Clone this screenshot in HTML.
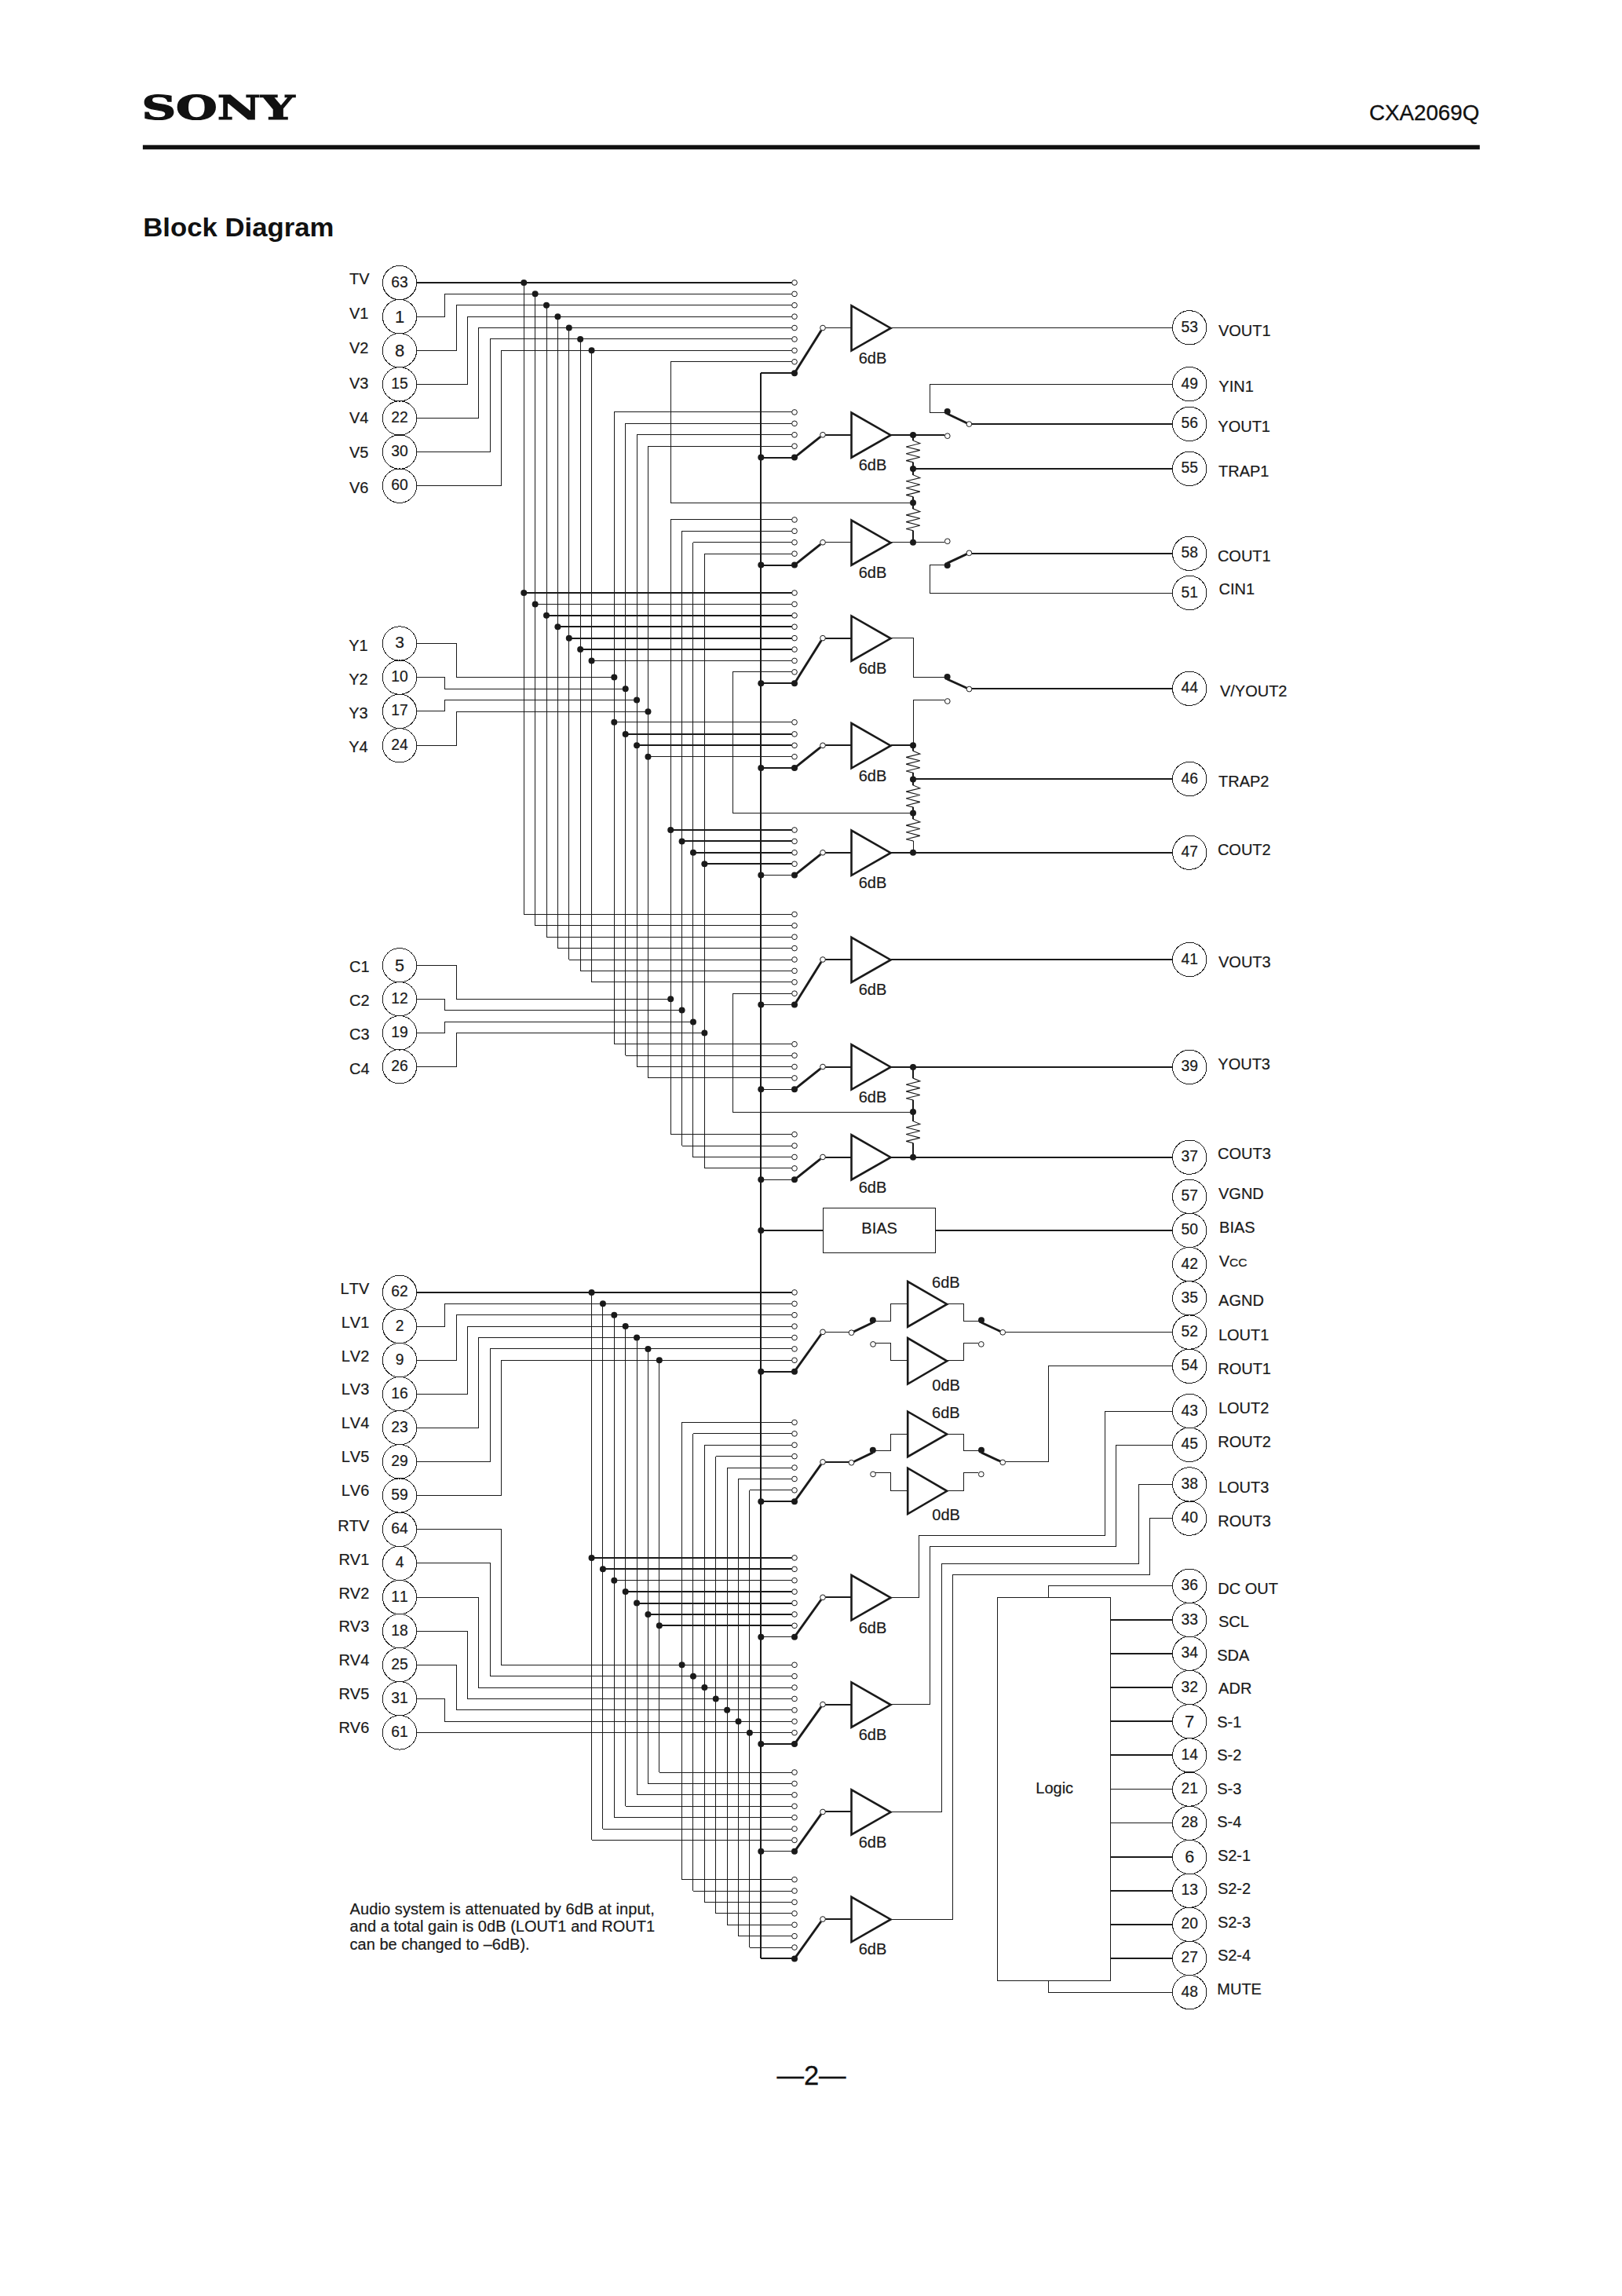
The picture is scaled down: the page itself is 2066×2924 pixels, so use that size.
<!DOCTYPE html>
<html lang="en"><head><meta charset="utf-8"><title>CXA2069Q Block Diagram</title>
<style>html,body{margin:0;padding:0;background:#fff}svg{display:block}text{font-kerning:none;white-space:pre}</style>
</head><body>
<svg width="2066" height="2924" viewBox="0 0 2066 2924">
<rect width="100%" height="100%" fill="#fff"/>
<g fill="#111" font-family="'Liberation Sans', sans-serif">
<text id="sony" x="0" y="0" font-family="'DejaVu Serif', 'Liberation Serif', serif" font-weight="bold" font-size="42.5" transform="translate(180.4 151.5) scale(1.425 1)" stroke="#111" stroke-width="1.2">SONY</text>
<text id="partno" x="1884.3" y="152.7" font-size="27" text-anchor="end" stroke="#111" stroke-width="0.3" textLength="140.4" lengthAdjust="spacingAndGlyphs">CXA2069Q</text>
<rect x="181.9" y="184.7" width="1702.9" height="5.6"/>
<text id="title" x="182.3" y="300.9" font-size="34" font-weight="bold" textLength="243.1" lengthAdjust="spacingAndGlyphs">Block Diagram</text>
<text id="pageno" x="1033.5" y="2654.9" font-size="34.5" text-anchor="middle" stroke="#111" stroke-width="0.3">—2—</text>
</g>
<g fill="none" stroke="#1a1a1a" stroke-linecap="butt" stroke-linejoin="miter" shape-rendering="crispEdges">
<path d="M969.3 475L1012 475" stroke-width="2.0"/>
<path d="M969.3 583L1012 583" stroke-width="2.0"/>
<path d="M969.3 720L1012 720" stroke-width="2.0"/>
<path d="M969.3 870L1012 870" stroke-width="2.0"/>
<path d="M969.3 978L1012 978" stroke-width="2.0"/>
<path d="M969.3 1114.5L1012 1114.5" stroke-width="1.0"/>
<path d="M969.3 1279.5L1012 1279.5" stroke-width="1.0"/>
<path d="M969.3 1387.5L1012 1387.5" stroke-width="1.0"/>
<path d="M969.3 1502.5L1012 1502.5" stroke-width="1.0"/>
<path d="M969.3 1747L1012 1747" stroke-width="2.0"/>
<path d="M969.3 1912L1012 1912" stroke-width="2.0"/>
<path d="M969.3 2084.5L1012 2084.5" stroke-width="1.0"/>
<path d="M969.3 2221L1012 2221" stroke-width="2.0"/>
<path d="M969.3 2357.5L1012 2357.5" stroke-width="1.0"/>
<path d="M969.3 2494L1012 2494" stroke-width="2.0"/>
<path d="M969 475.15L969 2494.45" stroke-width="2.0"/>
<path d="M667.5 359.95L667.5 1164.4" stroke-width="1.0"/>
<path d="M667.27 755L1008.65 755" stroke-width="2.0"/>
<path d="M667.27 1164.5L1008.65 1164.5" stroke-width="1.0"/>
<path d="M530.7 403.5L566.5 403.5L566.5 374.5L1008.65 374.5" stroke-width="1.0"/>
<path d="M681.5 374.35L681.5 1178.8" stroke-width="1.0"/>
<path d="M681.65 769.5L1008.65 769.5" stroke-width="1.0"/>
<path d="M681.65 1178.5L1008.65 1178.5" stroke-width="1.0"/>
<path d="M530.7 446.5L581.5 446.5L581.5 388.5L1008.65 388.5" stroke-width="1.0"/>
<path d="M696.5 388.75L696.5 1193.2" stroke-width="1.0"/>
<path d="M696.03 784L1008.65 784" stroke-width="2.0"/>
<path d="M696.03 1193.5L1008.65 1193.5" stroke-width="1.0"/>
<path d="M530.7 489.5L595.5 489.5L595.5 403.5L1008.65 403.5" stroke-width="1.0"/>
<path d="M710.5 403.15L710.5 1207.6" stroke-width="1.0"/>
<path d="M710.41 798L1008.65 798" stroke-width="2.0"/>
<path d="M710.41 1207.5L1008.65 1207.5" stroke-width="1.0"/>
<path d="M530.7 532.5L609.5 532.5L609.5 417.5L1008.65 417.5" stroke-width="1.0"/>
<path d="M724.5 417.55L724.5 1222" stroke-width="1.0"/>
<path d="M724.79 813L1008.65 813" stroke-width="2.0"/>
<path d="M724.79 1222.5L1008.65 1222.5" stroke-width="1.0"/>
<path d="M530.7 575.5L624.5 575.5L624.5 431.5L1008.65 431.5" stroke-width="1.0"/>
<path d="M739.5 431.95L739.5 1236.4" stroke-width="1.0"/>
<path d="M739.17 827L1008.65 827" stroke-width="2.0"/>
<path d="M739.17 1236.5L1008.65 1236.5" stroke-width="1.0"/>
<path d="M530.7 618.5L638.5 618.5L638.5 446.5L1008.65 446.5" stroke-width="1.0"/>
<path d="M753.5 446.35L753.5 1250.8" stroke-width="1.0"/>
<path d="M753.55 841.5L1008.65 841.5" stroke-width="1.0"/>
<path d="M753.55 1250.5L1008.65 1250.5" stroke-width="1.0"/>
<path d="M530.7 819.5L581.5 819.5L581.5 862.5L782.31 862.5" stroke-width="1.0"/>
<path d="M782.5 524.95L782.5 1329.75" stroke-width="1.0"/>
<path d="M782.31 524.5L1008.65 524.5" stroke-width="1.0"/>
<path d="M782.31 919.5L1008.65 919.5" stroke-width="1.0"/>
<path d="M782.31 1329.5L1008.65 1329.5" stroke-width="1.0"/>
<path d="M530.7 862.5L566.5 862.5L566.5 877.5L796.69 877.5" stroke-width="1.0"/>
<path d="M796.5 539.35L796.5 1344.15" stroke-width="1.0"/>
<path d="M796.69 539.5L1008.65 539.5" stroke-width="1.0"/>
<path d="M796.69 935L1008.65 935" stroke-width="2.0"/>
<path d="M796.69 1344.5L1008.65 1344.5" stroke-width="1.0"/>
<path d="M530.7 905.5L566.5 905.5L566.5 891.5L811.07 891.5" stroke-width="1.0"/>
<path d="M811.5 553.75L811.5 1358.55" stroke-width="1.0"/>
<path d="M811.07 553.5L1008.65 553.5" stroke-width="1.0"/>
<path d="M811.07 949L1008.65 949" stroke-width="2.0"/>
<path d="M811.07 1358.5L1008.65 1358.5" stroke-width="1.0"/>
<path d="M530.7 949.5L581.5 949.5L581.5 906.5L825.45 906.5" stroke-width="1.0"/>
<path d="M825.5 568.15L825.5 1372.95" stroke-width="1.0"/>
<path d="M825.45 568.5L1008.65 568.5" stroke-width="1.0"/>
<path d="M825.45 963.5L1008.65 963.5" stroke-width="1.0"/>
<path d="M825.45 1372.5L1008.65 1372.5" stroke-width="1.0"/>
<path d="M530.7 1229.5L581.5 1229.5L581.5 1272.5L854.21 1272.5" stroke-width="1.0"/>
<path d="M854.5 661.95L854.5 1444.7" stroke-width="1.0"/>
<path d="M854.21 661.5L1008.65 661.5" stroke-width="1.0"/>
<path d="M854.21 1057L1008.65 1057" stroke-width="2.0"/>
<path d="M854.21 1444.5L1008.65 1444.5" stroke-width="1.0"/>
<path d="M530.7 1272.5L566.5 1272.5L566.5 1286.5L868.59 1286.5" stroke-width="1.0"/>
<path d="M868.5 676.35L868.5 1459.1" stroke-width="1.0"/>
<path d="M868.59 676.5L1008.65 676.5" stroke-width="1.0"/>
<path d="M868.59 1071L1008.65 1071" stroke-width="2.0"/>
<path d="M868.59 1459.5L1008.65 1459.5" stroke-width="1.0"/>
<path d="M530.7 1315.5L566.5 1315.5L566.5 1301.5L882.97 1301.5" stroke-width="1.0"/>
<path d="M882.5 690.75L882.5 1473.5" stroke-width="1.0"/>
<path d="M882.97 690.5L1008.65 690.5" stroke-width="1.0"/>
<path d="M882.97 1086L1008.65 1086" stroke-width="2.0"/>
<path d="M882.97 1473.5L1008.65 1473.5" stroke-width="1.0"/>
<path d="M530.7 1358.5L581.5 1358.5L581.5 1315.5L897.35 1315.5" stroke-width="1.0"/>
<path d="M897.5 705.15L897.5 1487.9" stroke-width="1.0"/>
<path d="M897.35 705.5L1008.65 705.5" stroke-width="1.0"/>
<path d="M897.35 1100L1008.65 1100" stroke-width="2.0"/>
<path d="M897.35 1487.5L1008.65 1487.5" stroke-width="1.0"/>
<path d="M1008.65 460.5L854.5 460.5L854.5 640.5L1163 640.5" stroke-width="1.0"/>
<path d="M1008.65 855.5L933.5 855.5L933.5 1035.5L1163 1035.5" stroke-width="1.0"/>
<path d="M1008.65 1265.5L933.5 1265.5L933.5 1416.5L1163 1416.5" stroke-width="1.0"/>
<path d="M1051.35 417.5L1084.5 417.5" stroke-width="1.0"/>
<path d="M1051.35 554L1084.5 554" stroke-width="2.0"/>
<path d="M1051.35 690.5L1084.5 690.5" stroke-width="1.0"/>
<path d="M1051.35 813L1084.5 813" stroke-width="2.0"/>
<path d="M1051.35 949L1084.5 949" stroke-width="2.0"/>
<path d="M1051.35 1086L1084.5 1086" stroke-width="2.0"/>
<path d="M1051.35 1222L1084.5 1222" stroke-width="2.0"/>
<path d="M1051.35 1359L1084.5 1359" stroke-width="2.0"/>
<path d="M1051.35 1474L1084.5 1474" stroke-width="2.0"/>
<path d="M1134.5 417.5L1493.5 417.5" stroke-width="1.0"/>
<path d="M1134.5 554L1203.2 554" stroke-width="2.0"/>
<path d="M1163 553.9L1163 560.9" stroke-width="2.0"/>
<path d="M1163 588.8L1163 597.1" stroke-width="2.0"/>
<path d="M1163 597.1L1163 604.7" stroke-width="2.0"/>
<path d="M1163 632.6L1163 640.2" stroke-width="2.0"/>
<path d="M1163 640.2L1163 647.8" stroke-width="2.0"/>
<path d="M1163 675.7L1163 690.7" stroke-width="2.0"/>
<path d="M1163 597L1493.5 597" stroke-width="2.0"/>
<path d="M1493.5 489.5L1184.5 489.5L1184.5 525.5L1206.7 525.5" stroke-width="1.0"/>
<path d="M1237.75 540L1493.5 540" stroke-width="2.0"/>
<path d="M1134.5 690.5L1203.4 690.5" stroke-width="1.0"/>
<path d="M1237.75 705L1493.5 705" stroke-width="2.0"/>
<path d="M1206.7 719.5L1184.5 719.5L1184.5 755.5L1493.5 755.5" stroke-width="1.0"/>
<path d="M1134.5 812.5L1163.5 812.5L1163.5 862.5L1206.6 862.5" stroke-width="1.0"/>
<path d="M1237.85 877L1493.5 877" stroke-width="2.0"/>
<path d="M1203.4 891.5L1163.5 891.5L1163.5 949.3" stroke-width="1.0"/>
<path d="M1134.5 949L1163 949" stroke-width="2.0"/>
<path d="M1163 949.3L1163 956.3" stroke-width="2.0"/>
<path d="M1163 984.2L1163 992.4" stroke-width="2.0"/>
<path d="M1163 992.4L1163 1000" stroke-width="2.0"/>
<path d="M1163 1027.9L1163 1035.4" stroke-width="2.0"/>
<path d="M1163 1035.4L1163 1043" stroke-width="2.0"/>
<path d="M1163.5 1070.9L1163.5 1085.8" stroke-width="1.0"/>
<path d="M1163 992L1493.5 992" stroke-width="2.0"/>
<path d="M1134.5 1086L1493.5 1086" stroke-width="2.0"/>
<path d="M1134.5 1222L1493.5 1222" stroke-width="2.0"/>
<path d="M1134.5 1359L1493.5 1359" stroke-width="2.0"/>
<path d="M1163 1358.9L1163 1373.1" stroke-width="2.0"/>
<path d="M1163 1401L1163 1416.1" stroke-width="2.0"/>
<path d="M1163 1416.1L1163 1427.7" stroke-width="2.0"/>
<path d="M1163 1455.6L1163 1473.7" stroke-width="2.0"/>
<path d="M1134.5 1474L1493.5 1474" stroke-width="2.0"/>
<path d="M969.3 1567L1048.2 1567" stroke-width="2.0"/>
<rect x="1048.2" y="1538.2" width="143.4" height="57.2" stroke-width="1"/>
<path d="M1191.6 1567L1493.5 1567" stroke-width="2.0"/>
<path d="M530.7 1646L1008.65 1646" stroke-width="2.0"/>
<path d="M753.5 1645.9L753.5 2343.45" stroke-width="1.0"/>
<path d="M753.55 1984L1008.65 1984" stroke-width="2.0"/>
<path d="M753.55 2343.5L1008.65 2343.5" stroke-width="1.0"/>
<path d="M530.7 1689.5L566.5 1689.5L566.5 1660.5L1008.65 1660.5" stroke-width="1.0"/>
<path d="M767.5 1660.3L767.5 2329.05" stroke-width="1.0"/>
<path d="M767.93 1998L1008.65 1998" stroke-width="2.0"/>
<path d="M767.93 2329.5L1008.65 2329.5" stroke-width="1.0"/>
<path d="M530.7 1732.5L581.5 1732.5L581.5 1674.5L1008.65 1674.5" stroke-width="1.0"/>
<path d="M782.5 1674.7L782.5 2314.65" stroke-width="1.0"/>
<path d="M782.31 2012.5L1008.65 2012.5" stroke-width="1.0"/>
<path d="M782.31 2314.5L1008.65 2314.5" stroke-width="1.0"/>
<path d="M530.7 1775.5L595.5 1775.5L595.5 1689.5L1008.65 1689.5" stroke-width="1.0"/>
<path d="M796.5 1689.1L796.5 2300.25" stroke-width="1.0"/>
<path d="M796.69 2027L1008.65 2027" stroke-width="2.0"/>
<path d="M796.69 2300.5L1008.65 2300.5" stroke-width="1.0"/>
<path d="M530.7 1818.5L609.5 1818.5L609.5 1703.5L1008.65 1703.5" stroke-width="1.0"/>
<path d="M811.5 1703.5L811.5 2285.85" stroke-width="1.0"/>
<path d="M811.07 2042L1008.65 2042" stroke-width="2.0"/>
<path d="M811.07 2285.5L1008.65 2285.5" stroke-width="1.0"/>
<path d="M530.7 1861.5L624.5 1861.5L624.5 1717.5L1008.65 1717.5" stroke-width="1.0"/>
<path d="M825.5 1717.9L825.5 2271.45" stroke-width="1.0"/>
<path d="M825.45 2056L1008.65 2056" stroke-width="2.0"/>
<path d="M825.45 2271.5L1008.65 2271.5" stroke-width="1.0"/>
<path d="M530.7 1904.5L638.5 1904.5L638.5 1732.5L1008.65 1732.5" stroke-width="1.0"/>
<path d="M839.5 1732.3L839.5 2257.05" stroke-width="1.0"/>
<path d="M839.83 2070L1008.65 2070" stroke-width="2.0"/>
<path d="M839.83 2257.5L1008.65 2257.5" stroke-width="1.0"/>
<path d="M530.7 1947.5L638.5 1947.5L638.5 2120.5L1008.65 2120.5" stroke-width="1.0"/>
<path d="M868.5 1811.45L868.5 2393.65" stroke-width="1.0"/>
<path d="M868.59 1811.5L1008.65 1811.5" stroke-width="1.0"/>
<path d="M868.59 2393.5L1008.65 2393.5" stroke-width="1.0"/>
<path d="M530.7 1990.5L624.5 1990.5L624.5 2134.5L1008.65 2134.5" stroke-width="1.0"/>
<path d="M882.5 1825.85L882.5 2408.05" stroke-width="1.0"/>
<path d="M882.97 1825.5L1008.65 1825.5" stroke-width="1.0"/>
<path d="M882.97 2408.5L1008.65 2408.5" stroke-width="1.0"/>
<path d="M530.7 2034.5L609.5 2034.5L609.5 2149.5L1008.65 2149.5" stroke-width="1.0"/>
<path d="M897.5 1840.25L897.5 2422.45" stroke-width="1.0"/>
<path d="M897.35 1840.5L1008.65 1840.5" stroke-width="1.0"/>
<path d="M897.35 2422.5L1008.65 2422.5" stroke-width="1.0"/>
<path d="M530.7 2077.5L595.5 2077.5L595.5 2163.5L1008.65 2163.5" stroke-width="1.0"/>
<path d="M911.5 1854.65L911.5 2436.85" stroke-width="1.0"/>
<path d="M911.73 1854.5L1008.65 1854.5" stroke-width="1.0"/>
<path d="M911.73 2436.5L1008.65 2436.5" stroke-width="1.0"/>
<path d="M530.7 2120.5L581.5 2120.5L581.5 2177.5L1008.65 2177.5" stroke-width="1.0"/>
<path d="M926.5 1869.05L926.5 2451.25" stroke-width="1.0"/>
<path d="M926.11 1869.5L1008.65 1869.5" stroke-width="1.0"/>
<path d="M926.11 2451.5L1008.65 2451.5" stroke-width="1.0"/>
<path d="M530.7 2163.5L566.5 2163.5L566.5 2192.5L1008.65 2192.5" stroke-width="1.0"/>
<path d="M940.5 1883.45L940.5 2465.65" stroke-width="1.0"/>
<path d="M940.49 1883.5L1008.65 1883.5" stroke-width="1.0"/>
<path d="M940.49 2465.5L1008.65 2465.5" stroke-width="1.0"/>
<path d="M530.7 2206.5L1008.65 2206.5" stroke-width="1.0"/>
<path d="M954.5 1897.85L954.5 2480.05" stroke-width="1.0"/>
<path d="M954.87 1897.5L1008.65 1897.5" stroke-width="1.0"/>
<path d="M954.87 2480.5L1008.65 2480.5" stroke-width="1.0"/>
<path d="M1051.35 1696.5L1081.15 1696.5" stroke-width="1.0"/>
<path d="M1111.8 1682.5L1134.5 1682.5L1134.5 1660.5L1156.2 1660.5" stroke-width="1.0"/>
<path d="M1206.2 1660.5L1227.5 1660.5L1227.5 1682.5L1250 1682.5" stroke-width="1.0"/>
<path d="M1115.35 1710.5L1134.5 1710.5L1134.5 1732.5L1156.2 1732.5" stroke-width="1.0"/>
<path d="M1206.2 1732.5L1227.5 1732.5L1227.5 1710.5L1246.45 1710.5" stroke-width="1.0"/>
<path d="M1280.55 1696.5L1493.5 1696.5" stroke-width="1.0"/>
<path d="M1051.35 1862L1081.15 1862" stroke-width="2.0"/>
<path d="M1111.8 1847.5L1134.5 1847.5L1134.5 1826.5L1156.2 1826.5" stroke-width="1.0"/>
<path d="M1206.2 1826.5L1227.5 1826.5L1227.5 1847.5L1250 1847.5" stroke-width="1.0"/>
<path d="M1115.35 1875.5L1134.5 1875.5L1134.5 1898.5L1156.2 1898.5" stroke-width="1.0"/>
<path d="M1206.2 1898.5L1227.5 1898.5L1227.5 1875.5L1246.45 1875.5" stroke-width="1.0"/>
<path d="M1280.55 1861.5L1335.5 1861.5L1335.5 1739.5L1493.5 1739.5" stroke-width="1.0"/>
<path d="M1051.35 2034L1084.5 2034" stroke-width="2.0"/>
<path d="M1134.5 2034.5L1170.5 2034.5L1170.5 1955.5L1407.5 1955.5L1407.5 1797.5L1493.5 1797.5" stroke-width="1.0"/>
<path d="M1051.35 2171L1084.5 2171" stroke-width="2.0"/>
<path d="M1134.5 2170.5L1184.5 2170.5L1184.5 1969.5L1421.5 1969.5L1421.5 1840.5L1493.5 1840.5" stroke-width="1.0"/>
<path d="M1051.35 2307L1084.5 2307" stroke-width="2.0"/>
<path d="M1134.5 2307.5L1199.5 2307.5L1199.5 1991.5L1450.5 1991.5L1450.5 1890.5L1493.5 1890.5" stroke-width="1.0"/>
<path d="M1051.35 2444L1084.5 2444" stroke-width="2.0"/>
<path d="M1134.5 2444.5L1213.5 2444.5L1213.5 2005.5L1464.5 2005.5L1464.5 1933.5L1493.5 1933.5" stroke-width="1.0"/>
<rect x="1270.5" y="2034.3" width="144.1" height="488.1" stroke-width="1"/>
<path d="M1493.5 2019.5L1335.5 2019.5L1335.5 2034.3" stroke-width="1.0"/>
<path d="M1335.5 2522.4L1335.5 2537.5L1493.5 2537.5" stroke-width="1.0"/>
<path d="M1414.6 2063L1493.5 2063" stroke-width="2.0"/>
<path d="M1414.6 2106L1493.5 2106" stroke-width="2.0"/>
<path d="M1414.6 2149L1493.5 2149" stroke-width="2.0"/>
<path d="M1414.6 2192L1493.5 2192" stroke-width="2.0"/>
<path d="M1414.6 2235L1493.5 2235" stroke-width="2.0"/>
<path d="M1414.6 2278.5L1493.5 2278.5" stroke-width="1.0"/>
<path d="M1414.6 2321.5L1493.5 2321.5" stroke-width="1.0"/>
<path d="M1414.6 2365L1493.5 2365" stroke-width="2.0"/>
<path d="M1414.6 2408L1493.5 2408" stroke-width="2.0"/>
<path d="M1414.6 2451L1493.5 2451" stroke-width="2.0"/>
<path d="M1414.6 2494L1493.5 2494" stroke-width="2.0"/>
<g stroke-width="1.0"><circle cx="509" cy="360.05" r="21.7"/><circle cx="509" cy="403.15" r="21.7"/><circle cx="509" cy="446.25" r="21.7"/><circle cx="509" cy="489.35" r="21.7"/><circle cx="509" cy="532.45" r="21.7"/><circle cx="509" cy="575.55" r="21.7"/><circle cx="509" cy="618.65" r="21.7"/><circle cx="509" cy="819.5" r="21.7"/><circle cx="509" cy="862.6" r="21.7"/><circle cx="509" cy="905.9" r="21.7"/><circle cx="509" cy="949.3" r="21.7"/><circle cx="509" cy="1229.3" r="21.7"/><circle cx="509" cy="1272.3" r="21.7"/><circle cx="509" cy="1315.4" r="21.7"/><circle cx="509" cy="1358.2" r="21.7"/><circle cx="509" cy="1645.9" r="21.7"/><circle cx="509" cy="1689" r="21.7"/><circle cx="509" cy="1732.1" r="21.7"/><circle cx="509" cy="1775.2" r="21.7"/><circle cx="509" cy="1818.3" r="21.7"/><circle cx="509" cy="1861.4" r="21.7"/><circle cx="509" cy="1904.5" r="21.7"/><circle cx="509" cy="1947.8" r="21.7"/><circle cx="509" cy="1990.9" r="21.7"/><circle cx="509" cy="2034" r="21.7"/><circle cx="509" cy="2077.1" r="21.7"/><circle cx="509" cy="2120.2" r="21.7"/><circle cx="509" cy="2163.3" r="21.7"/><circle cx="509" cy="2206.4" r="21.7"/><circle cx="1515.2" cy="417.3" r="21.7"/><circle cx="1515.2" cy="489.1" r="21.7"/><circle cx="1515.2" cy="539.9" r="21.7"/><circle cx="1515.2" cy="596.9" r="21.7"/><circle cx="1515.2" cy="704.8" r="21.7"/><circle cx="1515.2" cy="755" r="21.7"/><circle cx="1515.2" cy="876.8" r="21.7"/><circle cx="1515.2" cy="992" r="21.7"/><circle cx="1515.2" cy="1085.7" r="21.7"/><circle cx="1515.2" cy="1222" r="21.7"/><circle cx="1515.2" cy="1358.9" r="21.7"/><circle cx="1515.2" cy="1473.7" r="21.7"/><circle cx="1515.2" cy="1523.8" r="21.7"/><circle cx="1515.2" cy="1566.9" r="21.7"/><circle cx="1515.2" cy="1610.1" r="21.7"/><circle cx="1515.2" cy="1653.3" r="21.7"/><circle cx="1515.2" cy="1696.6" r="21.7"/><circle cx="1515.2" cy="1739.8" r="21.7"/><circle cx="1515.2" cy="1797" r="21.7"/><circle cx="1515.2" cy="1839.9" r="21.7"/><circle cx="1515.2" cy="1890.4" r="21.7"/><circle cx="1515.2" cy="1933.7" r="21.7"/><circle cx="1515.2" cy="2019.8" r="21.7"/><circle cx="1515.2" cy="2063" r="21.7"/><circle cx="1515.2" cy="2105.8" r="21.7"/><circle cx="1515.2" cy="2149" r="21.7"/><circle cx="1515.2" cy="2192.2" r="21.7"/><circle cx="1515.2" cy="2235.4" r="21.7"/><circle cx="1515.2" cy="2278.6" r="21.7"/><circle cx="1515.2" cy="2321.8" r="21.7"/><circle cx="1515.2" cy="2365" r="21.7"/><circle cx="1515.2" cy="2407.7" r="21.7"/><circle cx="1515.2" cy="2450.8" r="21.7"/><circle cx="1515.2" cy="2493.9" r="21.7"/><circle cx="1515.2" cy="2537.1" r="21.7"/></g>
</g>
<g fill="none" stroke="#1a1a1a" stroke-linecap="butt" stroke-linejoin="miter">
<path d="M1012 475.15L1046.07 420.65" stroke-width="2.9"/>
<path d="M1012 582.55L1045.15 556.03" stroke-width="2.9"/>
<path d="M1012 719.55L1045.15 693.03" stroke-width="2.9"/>
<path d="M1012 870.25L1046.07 815.75" stroke-width="2.9"/>
<path d="M1012 978.1L1045.15 951.58" stroke-width="2.9"/>
<path d="M1012 1114.6L1045.15 1088.08" stroke-width="2.9"/>
<path d="M1012 1279.6L1046.07 1225.1" stroke-width="2.9"/>
<path d="M1012 1387.35L1045.15 1360.83" stroke-width="2.9"/>
<path d="M1012 1502.3L1045.15 1475.78" stroke-width="2.9"/>
<path d="M1012 1746.7L1045.88 1699.27" stroke-width="2.9"/>
<path d="M1012 1912.25L1045.88 1864.82" stroke-width="2.9"/>
<path d="M1012 2084.7L1045.88 2037.27" stroke-width="2.9"/>
<path d="M1012 2221.05L1045.88 2173.62" stroke-width="2.9"/>
<path d="M1012 2357.85L1045.88 2310.42" stroke-width="2.9"/>
<path d="M1012 2494.45L1045.88 2447.02" stroke-width="2.9"/>
<path d="M530.7 360.05L1008.65 359.95" stroke-width="2.0"/>
<path d="M1084.5 389.35L1084.5 446.55L1134.5 417.95Z" stroke-width="2.6" stroke-linejoin="miter"/>
<path d="M1084.5 525.55L1084.5 582.75L1134.5 554.15Z" stroke-width="2.6" stroke-linejoin="miter"/>
<path d="M1084.5 662.55L1084.5 719.75L1134.5 691.15Z" stroke-width="2.6" stroke-linejoin="miter"/>
<path d="M1084.5 784.45L1084.5 841.65L1134.5 813.05Z" stroke-width="2.6" stroke-linejoin="miter"/>
<path d="M1084.5 921.1L1084.5 978.3L1134.5 949.7Z" stroke-width="2.6" stroke-linejoin="miter"/>
<path d="M1084.5 1057.6L1084.5 1114.8L1134.5 1086.2Z" stroke-width="2.6" stroke-linejoin="miter"/>
<path d="M1084.5 1193.8L1084.5 1251L1134.5 1222.4Z" stroke-width="2.6" stroke-linejoin="miter"/>
<path d="M1084.5 1330.35L1084.5 1387.55L1134.5 1358.95Z" stroke-width="2.6" stroke-linejoin="miter"/>
<path d="M1084.5 1445.3L1084.5 1502.5L1134.5 1473.9Z" stroke-width="2.6" stroke-linejoin="miter"/>
<path d="M1163 560.3L1163 560.9L1171.85 564.7L1154.15 569L1171.85 573.4L1154.15 577.7L1171.85 582.3L1154.15 586.6L1163 588.8L1163 589.4" stroke-width="1.1" stroke-linejoin="miter"/>
<path d="M1163 604.1L1163 604.7L1171.85 608.5L1154.15 612.8L1171.85 617.2L1154.15 621.5L1171.85 626.1L1154.15 630.4L1163 632.6L1163 633.2" stroke-width="1.1" stroke-linejoin="miter"/>
<path d="M1163 647.2L1163 647.8L1171.85 651.6L1154.15 655.9L1171.85 660.3L1154.15 664.6L1171.85 669.2L1154.15 673.5L1163 675.7L1163 676.3" stroke-width="1.1" stroke-linejoin="miter"/>
<path d="M1206.7 527L1231.4 538.8" stroke-width="2.9"/>
<path d="M1206.7 717.1L1231.4 705.6" stroke-width="2.9"/>
<path d="M1206.6 865L1231.5 876.3" stroke-width="2.9"/>
<path d="M1163 955.7L1163 956.3L1171.85 960.1L1154.15 964.4L1171.85 968.8L1154.15 973.1L1171.85 977.7L1154.15 982L1163 984.2L1163 984.8" stroke-width="1.1" stroke-linejoin="miter"/>
<path d="M1163 999.4L1163 1000L1171.85 1003.8L1154.15 1008.1L1171.85 1012.5L1154.15 1016.8L1171.85 1021.4L1154.15 1025.7L1163 1027.9L1163 1028.5" stroke-width="1.1" stroke-linejoin="miter"/>
<path d="M1163 1042.4L1163 1043L1171.85 1046.8L1154.15 1051.1L1171.85 1055.5L1154.15 1059.8L1171.85 1064.4L1154.15 1068.7L1163 1070.9L1163 1071.5" stroke-width="1.1" stroke-linejoin="miter"/>
<path d="M1163 1372.5L1163 1373.1L1171.85 1376.9L1154.15 1381.2L1171.85 1385.6L1154.15 1389.9L1171.85 1394.5L1154.15 1398.8L1163 1401L1163 1401.6" stroke-width="1.1" stroke-linejoin="miter"/>
<path d="M1163 1427.1L1163 1427.7L1171.85 1431.5L1154.15 1435.8L1171.85 1440.2L1154.15 1444.5L1171.85 1449.1L1154.15 1453.4L1163 1455.6L1163 1456.2" stroke-width="1.1" stroke-linejoin="miter"/>
<path d="M1087.5 1695.9L1111.8 1684.3" stroke-width="2.9"/>
<path d="M1156.2 1632.1L1156.2 1689.7L1206.2 1660.9Z" stroke-width="2.6" stroke-linejoin="miter"/>
<path d="M1250 1684.3L1274.2 1695.5" stroke-width="2.9"/>
<path d="M1156.2 1704.1L1156.2 1762.5L1206.2 1733.3Z" stroke-width="2.6" stroke-linejoin="miter"/>
<path d="M1087.5 1861.45L1111.8 1849.85" stroke-width="2.9"/>
<path d="M1156.2 1797.65L1156.2 1855.25L1206.2 1826.45Z" stroke-width="2.6" stroke-linejoin="miter"/>
<path d="M1250 1849.85L1274.2 1861.05" stroke-width="2.9"/>
<path d="M1156.2 1869.65L1156.2 1928.05L1206.2 1898.85Z" stroke-width="2.6" stroke-linejoin="miter"/>
<path d="M1084.5 2006.1L1084.5 2063.3L1134.5 2034.7Z" stroke-width="2.6" stroke-linejoin="miter"/>
<path d="M1084.5 2142.45L1084.5 2199.65L1134.5 2171.05Z" stroke-width="2.6" stroke-linejoin="miter"/>
<path d="M1084.5 2279.25L1084.5 2336.45L1134.5 2307.85Z" stroke-width="2.6" stroke-linejoin="miter"/>
<path d="M1084.5 2415.85L1084.5 2473.05L1134.5 2444.45Z" stroke-width="2.6" stroke-linejoin="miter"/>
</g>
<g fill="#1a1a1a" stroke="none"><circle cx="1012" cy="475.15" r="4.0"/><circle cx="1012" cy="582.55" r="4.0"/><circle cx="1012" cy="719.55" r="4.0"/><circle cx="1012" cy="870.25" r="4.0"/><circle cx="1012" cy="978.1" r="4.0"/><circle cx="1012" cy="1114.6" r="4.0"/><circle cx="1012" cy="1279.6" r="4.0"/><circle cx="1012" cy="1387.35" r="4.0"/><circle cx="1012" cy="1502.3" r="4.0"/><circle cx="1012" cy="1746.7" r="4.0"/><circle cx="1012" cy="1912.25" r="4.0"/><circle cx="1012" cy="2084.7" r="4.0"/><circle cx="1012" cy="2221.05" r="4.0"/><circle cx="1012" cy="2357.85" r="4.0"/><circle cx="1012" cy="2494.45" r="4.0"/><circle cx="969.3" cy="582.55" r="4.0"/><circle cx="969.3" cy="719.55" r="4.0"/><circle cx="969.3" cy="870.25" r="4.0"/><circle cx="969.3" cy="978.1" r="4.0"/><circle cx="969.3" cy="1114.6" r="4.0"/><circle cx="969.3" cy="1279.6" r="4.0"/><circle cx="969.3" cy="1387.35" r="4.0"/><circle cx="969.3" cy="1502.3" r="4.0"/><circle cx="969.3" cy="1746.7" r="4.0"/><circle cx="969.3" cy="1912.25" r="4.0"/><circle cx="969.3" cy="2084.7" r="4.0"/><circle cx="969.3" cy="2221.05" r="4.0"/><circle cx="969.3" cy="2357.85" r="4.0"/><circle cx="667.27" cy="359.95" r="4.0"/><circle cx="667.27" cy="755.05" r="4.0"/><circle cx="681.65" cy="374.35" r="4.0"/><circle cx="681.65" cy="769.45" r="4.0"/><circle cx="696.03" cy="388.75" r="4.0"/><circle cx="696.03" cy="783.85" r="4.0"/><circle cx="710.41" cy="403.15" r="4.0"/><circle cx="710.41" cy="798.25" r="4.0"/><circle cx="724.79" cy="417.55" r="4.0"/><circle cx="724.79" cy="812.65" r="4.0"/><circle cx="739.17" cy="431.95" r="4.0"/><circle cx="739.17" cy="827.05" r="4.0"/><circle cx="753.55" cy="446.35" r="4.0"/><circle cx="753.55" cy="841.45" r="4.0"/><circle cx="782.31" cy="862.5" r="4.0"/><circle cx="782.31" cy="919.8" r="4.0"/><circle cx="796.69" cy="877.3" r="4.0"/><circle cx="796.69" cy="934.9" r="4.0"/><circle cx="811.07" cy="891.5" r="4.0"/><circle cx="811.07" cy="949.3" r="4.0"/><circle cx="825.45" cy="906.3" r="4.0"/><circle cx="825.45" cy="963.7" r="4.0"/><circle cx="854.21" cy="1272.2" r="4.0"/><circle cx="854.21" cy="1057" r="4.0"/><circle cx="868.59" cy="1286.5" r="4.0"/><circle cx="868.59" cy="1071.4" r="4.0"/><circle cx="882.97" cy="1301.4" r="4.0"/><circle cx="882.97" cy="1085.8" r="4.0"/><circle cx="897.35" cy="1315.4" r="4.0"/><circle cx="897.35" cy="1100.2" r="4.0"/><circle cx="1163" cy="553.9" r="4.0"/><circle cx="1163" cy="597.1" r="4.0"/><circle cx="1163" cy="640.2" r="4.0"/><circle cx="1163" cy="690.7" r="4.0"/><circle cx="1206.7" cy="524" r="4.0"/><circle cx="1206.7" cy="720.1" r="4.0"/><circle cx="1206.6" cy="862" r="4.0"/><circle cx="1163" cy="949.3" r="4.0"/><circle cx="1163" cy="992.4" r="4.0"/><circle cx="1163" cy="1035.4" r="4.0"/><circle cx="1163" cy="1085.8" r="4.0"/><circle cx="1163" cy="1358.9" r="4.0"/><circle cx="1163" cy="1416.1" r="4.0"/><circle cx="1163" cy="1473.7" r="4.0"/><circle cx="969.3" cy="1567.1" r="4.0"/><circle cx="753.55" cy="1645.9" r="4.0"/><circle cx="753.55" cy="1983.9" r="4.0"/><circle cx="767.93" cy="1660.3" r="4.0"/><circle cx="767.93" cy="1998.3" r="4.0"/><circle cx="782.31" cy="1674.7" r="4.0"/><circle cx="782.31" cy="2012.7" r="4.0"/><circle cx="796.69" cy="1689.1" r="4.0"/><circle cx="796.69" cy="2027.1" r="4.0"/><circle cx="811.07" cy="1703.5" r="4.0"/><circle cx="811.07" cy="2041.5" r="4.0"/><circle cx="825.45" cy="1717.9" r="4.0"/><circle cx="825.45" cy="2055.9" r="4.0"/><circle cx="839.83" cy="1732.3" r="4.0"/><circle cx="839.83" cy="2070.3" r="4.0"/><circle cx="868.59" cy="2120.25" r="4.0"/><circle cx="882.97" cy="2134.65" r="4.0"/><circle cx="897.35" cy="2149.05" r="4.0"/><circle cx="911.73" cy="2163.45" r="4.0"/><circle cx="926.11" cy="2177.85" r="4.0"/><circle cx="940.49" cy="2192.25" r="4.0"/><circle cx="954.87" cy="2206.65" r="4.0"/><circle cx="1111.8" cy="1681.3" r="4.0"/><circle cx="1250" cy="1681.3" r="4.0"/><circle cx="1111.8" cy="1846.85" r="4.0"/><circle cx="1250" cy="1846.85" r="4.0"/></g>
<g fill="#fff" stroke="#1a1a1a" stroke-width="1.0"><circle cx="1012" cy="359.95" r="3.35"/><circle cx="1012" cy="374.35" r="3.35"/><circle cx="1012" cy="388.75" r="3.35"/><circle cx="1012" cy="403.15" r="3.35"/><circle cx="1012" cy="417.55" r="3.35"/><circle cx="1012" cy="431.95" r="3.35"/><circle cx="1012" cy="446.35" r="3.35"/><circle cx="1012" cy="460.75" r="3.35"/><circle cx="1048" cy="417.55" r="3.35"/><circle cx="1012" cy="524.95" r="3.35"/><circle cx="1012" cy="539.35" r="3.35"/><circle cx="1012" cy="553.75" r="3.35"/><circle cx="1012" cy="568.15" r="3.35"/><circle cx="1048" cy="553.75" r="3.35"/><circle cx="1012" cy="661.95" r="3.35"/><circle cx="1012" cy="676.35" r="3.35"/><circle cx="1012" cy="690.75" r="3.35"/><circle cx="1012" cy="705.15" r="3.35"/><circle cx="1048" cy="690.75" r="3.35"/><circle cx="1012" cy="755.05" r="3.35"/><circle cx="1012" cy="769.45" r="3.35"/><circle cx="1012" cy="783.85" r="3.35"/><circle cx="1012" cy="798.25" r="3.35"/><circle cx="1012" cy="812.65" r="3.35"/><circle cx="1012" cy="827.05" r="3.35"/><circle cx="1012" cy="841.45" r="3.35"/><circle cx="1012" cy="855.85" r="3.35"/><circle cx="1048" cy="812.65" r="3.35"/><circle cx="1012" cy="919.8" r="3.35"/><circle cx="1012" cy="934.9" r="3.35"/><circle cx="1012" cy="949.3" r="3.35"/><circle cx="1012" cy="963.7" r="3.35"/><circle cx="1048" cy="949.3" r="3.35"/><circle cx="1012" cy="1057" r="3.35"/><circle cx="1012" cy="1071.4" r="3.35"/><circle cx="1012" cy="1085.8" r="3.35"/><circle cx="1012" cy="1100.2" r="3.35"/><circle cx="1048" cy="1085.8" r="3.35"/><circle cx="1012" cy="1164.4" r="3.35"/><circle cx="1012" cy="1178.8" r="3.35"/><circle cx="1012" cy="1193.2" r="3.35"/><circle cx="1012" cy="1207.6" r="3.35"/><circle cx="1012" cy="1222" r="3.35"/><circle cx="1012" cy="1236.4" r="3.35"/><circle cx="1012" cy="1250.8" r="3.35"/><circle cx="1012" cy="1265.2" r="3.35"/><circle cx="1048" cy="1222" r="3.35"/><circle cx="1012" cy="1329.75" r="3.35"/><circle cx="1012" cy="1344.15" r="3.35"/><circle cx="1012" cy="1358.55" r="3.35"/><circle cx="1012" cy="1372.95" r="3.35"/><circle cx="1048" cy="1358.55" r="3.35"/><circle cx="1012" cy="1444.7" r="3.35"/><circle cx="1012" cy="1459.1" r="3.35"/><circle cx="1012" cy="1473.5" r="3.35"/><circle cx="1012" cy="1487.9" r="3.35"/><circle cx="1048" cy="1473.5" r="3.35"/><circle cx="1012" cy="1645.9" r="3.35"/><circle cx="1012" cy="1660.3" r="3.35"/><circle cx="1012" cy="1674.7" r="3.35"/><circle cx="1012" cy="1689.1" r="3.35"/><circle cx="1012" cy="1703.5" r="3.35"/><circle cx="1012" cy="1717.9" r="3.35"/><circle cx="1012" cy="1732.3" r="3.35"/><circle cx="1048" cy="1696.3" r="3.35"/><circle cx="1012" cy="1811.45" r="3.35"/><circle cx="1012" cy="1825.85" r="3.35"/><circle cx="1012" cy="1840.25" r="3.35"/><circle cx="1012" cy="1854.65" r="3.35"/><circle cx="1012" cy="1869.05" r="3.35"/><circle cx="1012" cy="1883.45" r="3.35"/><circle cx="1012" cy="1897.85" r="3.35"/><circle cx="1048" cy="1861.85" r="3.35"/><circle cx="1012" cy="1983.9" r="3.35"/><circle cx="1012" cy="1998.3" r="3.35"/><circle cx="1012" cy="2012.7" r="3.35"/><circle cx="1012" cy="2027.1" r="3.35"/><circle cx="1012" cy="2041.5" r="3.35"/><circle cx="1012" cy="2055.9" r="3.35"/><circle cx="1012" cy="2070.3" r="3.35"/><circle cx="1048" cy="2034.3" r="3.35"/><circle cx="1012" cy="2120.25" r="3.35"/><circle cx="1012" cy="2134.65" r="3.35"/><circle cx="1012" cy="2149.05" r="3.35"/><circle cx="1012" cy="2163.45" r="3.35"/><circle cx="1012" cy="2177.85" r="3.35"/><circle cx="1012" cy="2192.25" r="3.35"/><circle cx="1012" cy="2206.65" r="3.35"/><circle cx="1048" cy="2170.65" r="3.35"/><circle cx="1012" cy="2257.05" r="3.35"/><circle cx="1012" cy="2271.45" r="3.35"/><circle cx="1012" cy="2285.85" r="3.35"/><circle cx="1012" cy="2300.25" r="3.35"/><circle cx="1012" cy="2314.65" r="3.35"/><circle cx="1012" cy="2329.05" r="3.35"/><circle cx="1012" cy="2343.45" r="3.35"/><circle cx="1048" cy="2307.45" r="3.35"/><circle cx="1012" cy="2393.65" r="3.35"/><circle cx="1012" cy="2408.05" r="3.35"/><circle cx="1012" cy="2422.45" r="3.35"/><circle cx="1012" cy="2436.85" r="3.35"/><circle cx="1012" cy="2451.25" r="3.35"/><circle cx="1012" cy="2465.65" r="3.35"/><circle cx="1012" cy="2480.05" r="3.35"/><circle cx="1048" cy="2444.05" r="3.35"/><circle cx="1206.8" cy="555.2" r="3.35"/><circle cx="1234.4" cy="540.1" r="3.35"/><circle cx="1206.8" cy="689.3" r="3.35"/><circle cx="1234.4" cy="704.3" r="3.35"/><circle cx="1234.5" cy="877.6" r="3.35"/><circle cx="1206.8" cy="893" r="3.35"/><circle cx="1084.5" cy="1697.2" r="3.35"/><circle cx="1277.2" cy="1696.8" r="3.35"/><circle cx="1112" cy="1711.9" r="3.35"/><circle cx="1249.8" cy="1711.9" r="3.35"/><circle cx="1084.5" cy="1862.75" r="3.35"/><circle cx="1277.2" cy="1862.35" r="3.35"/><circle cx="1112" cy="1877.45" r="3.35"/><circle cx="1249.8" cy="1877.45" r="3.35"/></g>
<g fill="#1a1a1a" stroke="#1a1a1a" stroke-width="0.2" font-family="'Liberation Sans', sans-serif" font-size="20">
<text x="445" y="361.7">TV</text>
<text x="445" y="406">V1</text>
<text x="445" y="450.3">V2</text>
<text x="445" y="494.6">V3</text>
<text x="445" y="538.9">V4</text>
<text x="445" y="583.2">V5</text>
<text x="445" y="627.5">V6</text>
<text x="444.2" y="829">Y1</text>
<text x="444.2" y="871.95">Y2</text>
<text x="444.2" y="914.9">Y3</text>
<text x="444.2" y="957.85">Y4</text>
<text x="445" y="1237.8">C1</text>
<text x="445" y="1281.1">C2</text>
<text x="445" y="1324.4">C3</text>
<text x="445" y="1367.7">C4</text>
<text x="1093.7" y="462.85">6dB</text>
<text x="1093.7" y="599.05">6dB</text>
<text x="1093.7" y="736.05">6dB</text>
<text x="1093.7" y="857.95">6dB</text>
<text x="1093.7" y="994.6">6dB</text>
<text x="1093.7" y="1131.1">6dB</text>
<text x="1093.7" y="1267.3">6dB</text>
<text x="1093.7" y="1403.85">6dB</text>
<text x="1093.7" y="1518.8">6dB</text>
<text x="1097.3" y="1571.4">BIAS</text>
<text x="470.3" y="1647.7" text-anchor="end">LTV</text>
<text x="470.3" y="1690.6" text-anchor="end">LV1</text>
<text x="470.3" y="1733.5" text-anchor="end">LV2</text>
<text x="470.3" y="1776.4" text-anchor="end">LV3</text>
<text x="470.3" y="1819.3" text-anchor="end">LV4</text>
<text x="470.3" y="1862.2" text-anchor="end">LV5</text>
<text x="470.3" y="1905.1" text-anchor="end">LV6</text>
<text x="470.3" y="1949.7" text-anchor="end">RTV</text>
<text x="470.3" y="1992.6" text-anchor="end">RV1</text>
<text x="470.3" y="2035.5" text-anchor="end">RV2</text>
<text x="470.3" y="2078.4" text-anchor="end">RV3</text>
<text x="470.3" y="2121.3" text-anchor="end">RV4</text>
<text x="470.3" y="2164.2" text-anchor="end">RV5</text>
<text x="470.3" y="2207.1" text-anchor="end">RV6</text>
<text x="1187.1" y="1640.3">6dB</text>
<text x="1187.3" y="1770.6">0dB</text>
<text x="1187.1" y="1805.85">6dB</text>
<text x="1187.3" y="1936.15">0dB</text>
<text x="1093.7" y="2079.6">6dB</text>
<text x="1093.7" y="2215.95">6dB</text>
<text x="1093.7" y="2352.75">6dB</text>
<text x="1093.7" y="2489.35">6dB</text>
<text x="1319.3" y="2283.6">Logic</text>
<text x="1551.9" y="427.8">VOUT1</text>
<text x="1552.3" y="499">YIN1</text>
<text x="1551.3" y="549.5">YOUT1</text>
<text x="1552" y="606.9">TRAP1</text>
<text x="1550.9" y="714.5">COUT1</text>
<text x="1552.6" y="757.3">CIN1</text>
<text x="1553.9" y="886.9">V/YOUT2</text>
<text x="1552" y="1001.8">TRAP2</text>
<text x="1550.9" y="1089.1">COUT2</text>
<text x="1552" y="1231.8">VOUT3</text>
<text x="1551.3" y="1361.9">YOUT3</text>
<text x="1551" y="1476.4">COUT3</text>
<text x="1552" y="1526.9">VGND</text>
<text x="1553.1" y="1569.9">BIAS</text>
<text x="1552.7" y="1612.6">V<tspan font-size="15.5">CC</tspan></text>
<text x="1552.1" y="1662.8">AGND</text>
<text x="1551.9" y="1707">LOUT1</text>
<text x="1551.2" y="1749.9">ROUT1</text>
<text x="1551.9" y="1800.1">LOUT2</text>
<text x="1551.2" y="1843">ROUT2</text>
<text x="1551.9" y="1900.8">LOUT3</text>
<text x="1551.2" y="1943.7">ROUT3</text>
<text x="1551.2" y="2030">DC OUT</text>
<text x="1551.9" y="2071.8">SCL</text>
<text x="1550.2" y="2114.6">SDA</text>
<text x="1552.1" y="2156.7">ADR</text>
<text x="1550.2" y="2199.6">S-1</text>
<text x="1550.2" y="2242.1">S-2</text>
<text x="1550.2" y="2284.9">S-3</text>
<text x="1550.2" y="2326.7">S-4</text>
<text x="1550.9" y="2369.7">S2-1</text>
<text x="1550.9" y="2411.8">S2-2</text>
<text x="1550.9" y="2454.7">S2-3</text>
<text x="1550.9" y="2497.1">S2-4</text>
<text x="1550.3" y="2540">MUTE</text>
<text x="445.6" y="2437.7" textLength="388.2" lengthAdjust="spacing">Audio system is attenuated by 6dB at input,</text>
<text x="445.6" y="2460.2" textLength="388.6" lengthAdjust="spacing">and a total gain is 0dB (LOUT1 and ROUT1</text>
<text x="445.6" y="2482.6">can be changed to –6dB).</text>
<text x="509" y="365.55" font-size="19.3" text-anchor="middle">63</text>
<text x="509" y="410.95" font-size="22" text-anchor="middle">1</text>
<text x="509" y="454.05" font-size="22" text-anchor="middle">8</text>
<text x="509" y="494.85" font-size="19.3" text-anchor="middle">15</text>
<text x="509" y="537.95" font-size="19.3" text-anchor="middle">22</text>
<text x="509" y="581.05" font-size="19.3" text-anchor="middle">30</text>
<text x="509" y="624.15" font-size="19.3" text-anchor="middle">60</text>
<text x="509" y="824.7" font-size="21" text-anchor="middle">3</text>
<text x="509" y="868.1" font-size="19.3" text-anchor="middle">10</text>
<text x="509" y="911.4" font-size="19.3" text-anchor="middle">17</text>
<text x="509" y="954.8" font-size="19.3" text-anchor="middle">24</text>
<text x="509" y="1237.1" font-size="21.5" text-anchor="middle">5</text>
<text x="509" y="1277.8" font-size="19.3" text-anchor="middle">12</text>
<text x="509" y="1320.9" font-size="19.3" text-anchor="middle">19</text>
<text x="509" y="1363.7" font-size="19.3" text-anchor="middle">26</text>
<text x="509" y="1651.4" font-size="19.3" text-anchor="middle">62</text>
<text x="509" y="1694.5" font-size="19.3" text-anchor="middle">2</text>
<text x="509" y="1737.6" font-size="19.3" text-anchor="middle">9</text>
<text x="509" y="1780.7" font-size="19.3" text-anchor="middle">16</text>
<text x="509" y="1823.8" font-size="19.3" text-anchor="middle">23</text>
<text x="509" y="1866.9" font-size="19.3" text-anchor="middle">29</text>
<text x="509" y="1910" font-size="19.3" text-anchor="middle">59</text>
<text x="509" y="1953.3" font-size="19.3" text-anchor="middle">64</text>
<text x="509" y="1996.4" font-size="19.3" text-anchor="middle">4</text>
<text x="509" y="2039.5" font-size="19.3" text-anchor="middle">11</text>
<text x="509" y="2082.6" font-size="19.3" text-anchor="middle">18</text>
<text x="509" y="2125.7" font-size="19.3" text-anchor="middle">25</text>
<text x="509" y="2168.8" font-size="19.3" text-anchor="middle">31</text>
<text x="509" y="2211.9" font-size="19.3" text-anchor="middle">61</text>
<text x="1515.2" y="422.8" font-size="19.3" text-anchor="middle">53</text>
<text x="1515.2" y="494.6" font-size="19.3" text-anchor="middle">49</text>
<text x="1515.2" y="545.4" font-size="19.3" text-anchor="middle">56</text>
<text x="1515.2" y="602.4" font-size="19.3" text-anchor="middle">55</text>
<text x="1515.2" y="710.3" font-size="19.3" text-anchor="middle">58</text>
<text x="1515.2" y="760.5" font-size="19.3" text-anchor="middle">51</text>
<text x="1515.2" y="882.3" font-size="19.3" text-anchor="middle">44</text>
<text x="1515.2" y="997.5" font-size="19.3" text-anchor="middle">46</text>
<text x="1515.2" y="1091.2" font-size="19.3" text-anchor="middle">47</text>
<text x="1515.2" y="1227.5" font-size="19.3" text-anchor="middle">41</text>
<text x="1515.2" y="1364.4" font-size="19.3" text-anchor="middle">39</text>
<text x="1515.2" y="1479.2" font-size="19.3" text-anchor="middle">37</text>
<text x="1515.2" y="1529.3" font-size="19.3" text-anchor="middle">57</text>
<text x="1515.2" y="1572.4" font-size="19.3" text-anchor="middle">50</text>
<text x="1515.2" y="1615.6" font-size="19.3" text-anchor="middle">42</text>
<text x="1515.2" y="1658.8" font-size="19.3" text-anchor="middle">35</text>
<text x="1515.2" y="1702.1" font-size="19.3" text-anchor="middle">52</text>
<text x="1515.2" y="1745.3" font-size="19.3" text-anchor="middle">54</text>
<text x="1515.2" y="1802.5" font-size="19.3" text-anchor="middle">43</text>
<text x="1515.2" y="1845.4" font-size="19.3" text-anchor="middle">45</text>
<text x="1515.2" y="1895.9" font-size="19.3" text-anchor="middle">38</text>
<text x="1515.2" y="1939.2" font-size="19.3" text-anchor="middle">40</text>
<text x="1515.2" y="2025.3" font-size="19.3" text-anchor="middle">36</text>
<text x="1515.2" y="2068.5" font-size="19.3" text-anchor="middle">33</text>
<text x="1515.2" y="2111.3" font-size="19.3" text-anchor="middle">34</text>
<text x="1515.2" y="2154.5" font-size="19.3" text-anchor="middle">32</text>
<text x="1515.2" y="2199.6" font-size="22" text-anchor="middle">7</text>
<text x="1515.2" y="2240.9" font-size="19.3" text-anchor="middle">14</text>
<text x="1515.2" y="2284.1" font-size="19.3" text-anchor="middle">21</text>
<text x="1515.2" y="2327.3" font-size="19.3" text-anchor="middle">28</text>
<text x="1515.2" y="2371.7" font-size="21.5" text-anchor="middle">6</text>
<text x="1515.2" y="2413.2" font-size="19.3" text-anchor="middle">13</text>
<text x="1515.2" y="2456.3" font-size="19.3" text-anchor="middle">20</text>
<text x="1515.2" y="2499.4" font-size="19.3" text-anchor="middle">27</text>
<text x="1515.2" y="2542.6" font-size="19.3" text-anchor="middle">48</text>
</g>
</svg>
</body></html>
